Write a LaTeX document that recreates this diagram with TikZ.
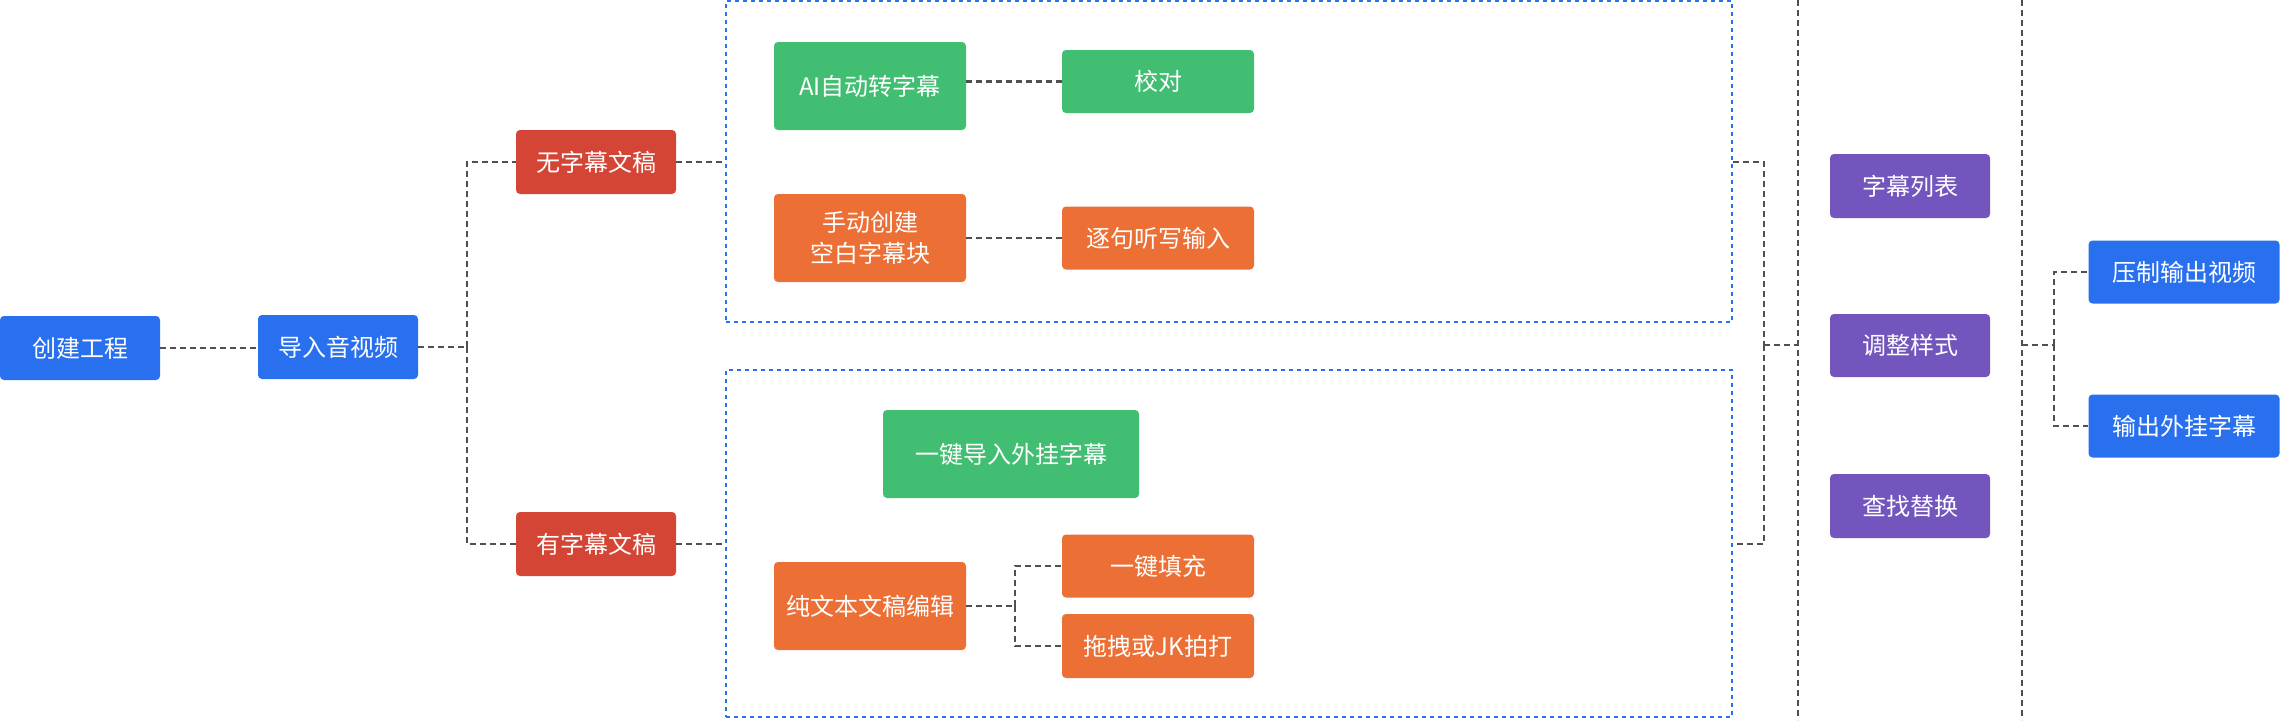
\documentclass[tikz,border=0pt]{standalone}
\usepackage{fontspec}
\setmainfont{Noto Sans CJK SC}
\definecolor{cblue}{HTML}{2970EF}
\definecolor{cred}{HTML}{D54535}
\definecolor{cgreen}{HTML}{42BE72}
\definecolor{corange}{HTML}{EC6F35}
\definecolor{cpurple}{HTML}{7256BD}
\definecolor{cline}{HTML}{505050}
\tikzset{
  box/.style={rectangle, rounded corners=4pt, inner sep=0pt, text=white,
    font=\fontsize{24}{31}\selectfont, align=center},
  bw/.style={box, minimum width=160pt, minimum height=64pt},
  bl/.style={box, minimum width=192pt, minimum height=64pt},
  bt/.style={box, minimum width=192pt, minimum height=88pt},
  conn/.style={draw=cline, line width=2.2pt, dash pattern=on 6pt off 4pt},
  group/.style={draw=cblue, line width=2pt, dash pattern=on 4pt off 4pt, inner sep=0pt},
}
\begin{document}
\begin{tikzpicture}[x=1pt,y=-1pt]
\useasboundingbox (0,0) rectangle (2280,720);
% groups
\node[group, minimum width=1006pt, minimum height=321pt] (gA) at (1229,161.5) {};
\node[group, minimum width=1006pt, minimum height=347pt] (gB) at (1229,543.5) {};
% nodes
\node[bw, fill=cblue] (cj) at (80,348) {创建工程};
\node[bw, fill=cblue] (dr) at (338,347) {导入音视频};
\node[bw, fill=cred] (wu) at (596,162) {无字幕文稿};
\node[bw, fill=cred] (you) at (596,544) {有字幕文稿};
\node[bt, fill=cgreen] (ai) at (870,86) {AI自动转字幕};
\node[bl, fill=cgreen, minimum height=63pt] (jd) at (1158,81.5) {校对};
\node[bt, fill=corange] (sd) at (870,238) {手动创建\\空白字幕块};
\node[bl, fill=corange, minimum height=63pt] (zj) at (1158,238) {逐句听写输入};
\node[bt, fill=cgreen, minimum width=256pt] (yj) at (1011,454) {一键导入外挂字幕};
\node[bt, fill=corange] (cw) at (870,606) {纯文本文稿编辑};
\node[bl, fill=corange, minimum height=63pt] (tc) at (1158,566) {一键填充};
\node[bl, fill=corange] (tz) at (1158,646) {拖拽或JK拍打};
\node[bw, fill=cpurple] (lb) at (1910,186) {字幕列表};
\node[bw, fill=cpurple, minimum height=63pt] (ys) at (1910,345.5) {调整样式};
\node[bw, fill=cpurple] (cz) at (1910,506) {查找替换};
\node[bl, fill=cblue, minimum width=191pt, minimum height=63pt] (yz) at (2184,272) {压制输出视频};
\node[bl, fill=cblue, minimum width=191pt, minimum height=63pt] (wg) at (2184,426) {输出外挂字幕};
% coordinates
\coordinate (b1) at (467,347);
\coordinate (b2) at (1764,345);
\coordinate (b3) at (2054,345);
\coordinate (b4) at (1015,606);
\coordinate (v1t) at (1798,0);
\coordinate (v1b) at (1798,720);
\coordinate (v2t) at (2022,0);
\coordinate (v2b) at (2022,720);
% connectors
\draw[conn] (cj.east) -- (cj.east -| dr.west);
\draw[conn] (dr.east) -- (b1);
\draw[conn] (b1) |- (wu.west);
\draw[conn] (b1) |- (you.west);
\draw[conn] (wu.east) -- (gA.west |- wu.east);
\draw[conn] (you.east) -- (gB.west |- you.east);
\draw[conn] (gA.east |- wu.east) -| (b2);
\draw[conn] (b2) |- (gB.east |- you.east);
\draw[conn] (b2) -- (v1t |- b2);
\draw[conn] (v1t) -- (v1b);
\draw[conn] (v2t) -- (v2b);
\draw[conn] (v2t |- b3) -- (b3);
\draw[conn] (b3) |- (yz.west);
\draw[conn] (b3) |- (wg.west);
\draw[conn] (ai.east |- jd.west) -- (jd.west);
\draw[conn] (sd.east) -- (zj.west);
\draw[conn] (cw.east) -- (b4);
\draw[conn] (b4) |- (tc.west);
\draw[conn] (b4) |- (tz.west);
\end{tikzpicture}
\end{document}
